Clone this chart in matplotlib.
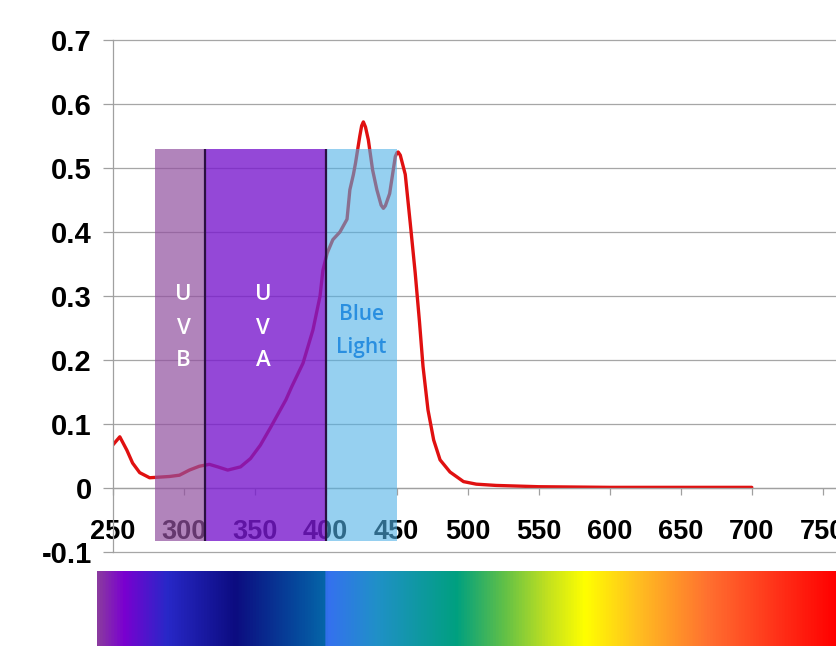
import numpy as np
import matplotlib
matplotlib.use("Agg")
import matplotlib.pyplot as plt
from matplotlib.colors import LinearSegmentedColormap
from matplotlib.patches import Rectangle

# ---- data ----
wavelength = [250, 255, 260, 264, 269, 276, 283, 290, 297, 304, 311, 318, 324, 331,
              340, 347, 354, 361, 368, 372, 376, 384, 391, 396, 398, 401, 405, 410,
              415, 417, 419.5, 421, 424, 425.3, 426.5, 428, 430, 433, 436, 439, 440.6,
              442, 445, 449, 450.2, 451, 452.5, 456, 459.5, 463, 466, 468.5, 472, 476,
              480.5, 487.5, 497, 506, 520, 550, 600, 650, 700]
absorbance = [0.067, 0.080, 0.059, 0.039, 0.024, 0.016, 0.017, 0.018, 0.020, 0.028,
              0.034, 0.037, 0.033, 0.028, 0.033, 0.046, 0.067, 0.094, 0.122, 0.138,
              0.158, 0.195, 0.247, 0.300, 0.340, 0.367, 0.388, 0.400, 0.420, 0.466,
              0.490, 0.508, 0.550, 0.566, 0.572, 0.564, 0.544, 0.497, 0.466, 0.442,
              0.437, 0.441, 0.460, 0.518, 0.524, 0.525, 0.520, 0.490, 0.414, 0.336,
              0.260, 0.190, 0.122, 0.075, 0.044, 0.025, 0.010, 0.006, 0.004, 0.002,
              0.001, 0.001, 0.001]

band_names = ["U\nV\nB", "U\nV\nA", "Blue\nLight"]
band_start = [280, 315, 400]
band_end = [315, 400, 450]
band_bottom = -0.083
band_top = 0.53
band_dividers = [315, 400]

x_ticks = [250, 300, 350, 400, 450, 500, 550, 600, 650, 700, 750]
y_ticks = [-0.1, 0.0, 0.1, 0.2, 0.3, 0.4, 0.5, 0.6, 0.7]
y_ticklabels = ["-0.1", "0", "0.1", "0.2", "0.3", "0.4", "0.5", "0.6", "0.7"]

spectrum_stops = [0.0, 0.035, 0.093, 0.186, 0.28, 0.308, 0.31, 0.377, 0.486,
                  0.55, 0.608, 0.66, 0.73, 0.827, 0.923, 1.0]
spectrum_colors = ["#8a3aa0", "#7a00d0", "#2828c8", "#0c0c80", "#0550a0", "#0566a8",
                   "#3570f0", "#2090c8", "#00a080", "#60c048", "#c0e020", "#ffff00",
                   "#ffc020", "#ff7030", "#ff3018", "#ff0000"]

# ---- style ----
W, H = 837, 652
fig = plt.figure(figsize=(W / 100, H / 100), dpi=100)
ax = fig.add_axes([112.7 / W, (H - 552) / H, (W - 112.7) / W, (552 - 40) / H])

ax.spines["top"].set_visible(False)
ax.spines["right"].set_visible(False)
ax.spines["bottom"].set_position(("data", 0))
ax.spines["bottom"].set_color("#a0a0a0")
ax.spines["left"].set_color("#a0a0a0")
ax.spines["bottom"].set_linewidth(0.9)
ax.spines["left"].set_linewidth(0.9)

ax.plot(wavelength, absorbance, color="#e01010", lw=2.4, zorder=2,
        solid_joinstyle="round", solid_capstyle="round")

band_colors = ["#91509f", "#791ace", "#50b1e6"]
band_alphas = [0.7, 0.8, 0.6]
for s, e, c, a in zip(band_start, band_end, band_colors, band_alphas):
    ax.add_patch(Rectangle((s, band_bottom), e - s, band_top - band_bottom,
                           facecolor=c, alpha=a, edgecolor="none", zorder=3))
ax.vlines(band_dividers, band_bottom, band_top, color="#2a1040", lw=1.6, zorder=4)

label_x = [300, 356, 425]
label_y = [0.25, 0.25, 0.246]
label_colors = ["white", "white", "#2a8fe0"]
label_sizes = [16, 16, 15]
label_spacing = [1.75, 1.75, 1.75]
for name, lx, ly, c, fs, ls in zip(band_names, label_x, label_y, label_colors,
                                   label_sizes, label_spacing):
    ax.text(lx, ly, name, color=c, fontsize=fs, family="Open Sans", fontweight="semibold",
            ha="center", va="center", linespacing=ls, zorder=5)

ax.set_xlim(250, 760)
ax.set_ylim(-0.1, 0.7)
ax.set_xticks(x_ticks)
ax.set_xticklabels([str(t) for t in x_ticks], fontfamily="Liberation Sans",
                   fontweight="bold", fontsize=19.5)
ax.set_yticks(y_ticks)
ax.set_yticklabels(y_ticklabels, fontfamily="Liberation Sans", fontweight="bold",
                   fontsize=21)

ax.tick_params(axis="x", direction="out", length=5, width=0.9, color="#a0a0a0", pad=17)
ax.tick_params(axis="y", direction="out", length=7, width=0.9, color="#a0a0a0", pad=8)
ax.yaxis.grid(True, color="#a6a6a6", lw=0.9)
for gl in ax.yaxis.get_gridlines():
    gl.set_clip_on(False)
ax.set_axisbelow("line")

# spectrum bar
cax = fig.add_axes([97 / W, 6 / H, 740 / W, 75 / H])
cmap = LinearSegmentedColormap.from_list("spec", list(zip(spectrum_stops, spectrum_colors)))
grad = np.linspace(0, 1, 1024)[None, :]
cax.imshow(grad, aspect="auto", cmap=cmap, interpolation="bilinear")
cax.set_axis_off()

fig.savefig("out.png", dpi=100)
